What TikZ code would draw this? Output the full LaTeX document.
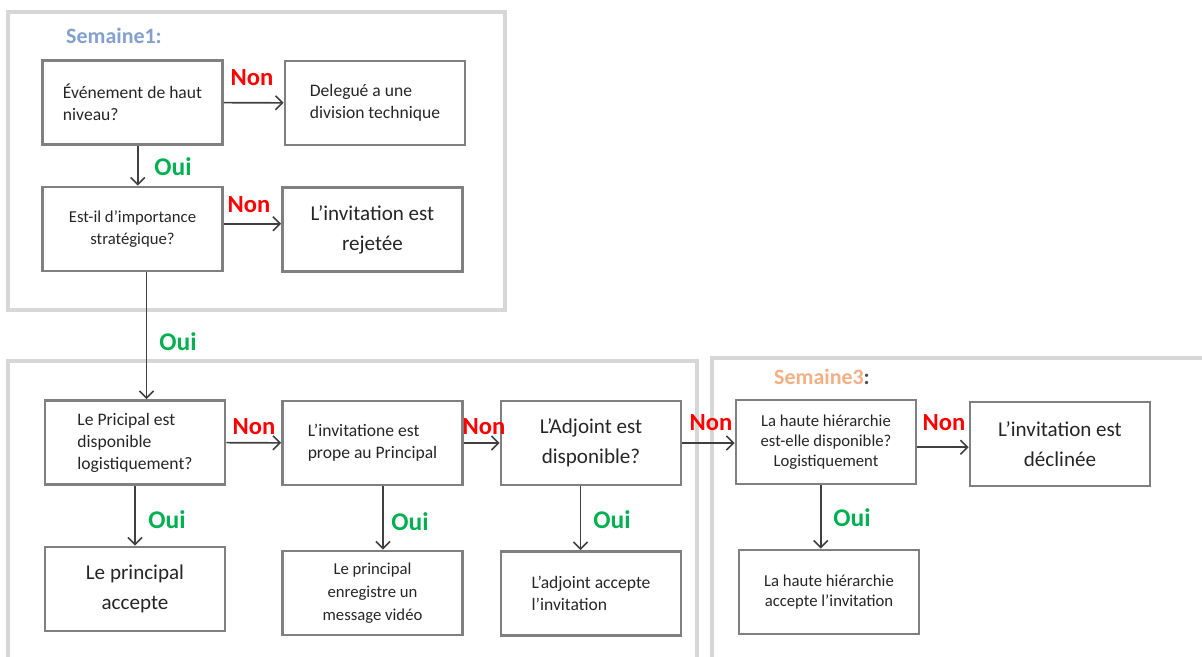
\documentclass[tikz,border=0pt]{standalone}
\usepackage{fontspec}
\setmainfont{Carlito}
\usetikzlibrary{arrows.meta}

\definecolor{nonred}{RGB}{255,0,0}
\definecolor{ouigreen}{RGB}{0,176,80}
\definecolor{semblue}{RGB}{132,160,206}
\definecolor{semorange}{RGB}{244,176,132}
\definecolor{panelgray}{RGB}{215,215,215}

\tikzset{
    panel/.style={draw=panelgray, line width=1.8pt},
    box/.style={draw=gray, line width=1.6pt, minimum width=3.6cm, minimum height=1.68cm,
        inner sep=2pt, text=black!85},
    smalltxt/.style={font=\fontsize{9.5}{13}\selectfont, align=center},
    normtxt/.style={font=\fontsize{10}{12.5}\selectfont, align=left},
    bigtxt/.style={font=\fontsize{12}{17}\selectfont, align=center},
    arr/.style={-{Straight Barb[length=4pt,width=8pt]}, draw=black!75, line width=0.9pt},
    non/.style={text=nonred, font=\bfseries\fontsize{14}{16}\selectfont},
    oui/.style={text=ouigreen, font=\bfseries\fontsize{14.5}{16}\selectfont}
}

\begin{document}
\begin{tikzpicture}[x=0.02cm, y=-0.02cm]
    \clip (0,0) rectangle (1202,656);
    \draw[panel] (8,12) rectangle (505,310);
    \draw[panel] (8,361) rectangle (697,680);
    \draw[panel] (712,358) rectangle (1220,680);
    \node[text=semblue, font=\bfseries\fontsize{12.5}{14}\selectfont] (sem1) at (114,36) {Semaine1:};
    \node[text=black!70, font=\bfseries\fontsize{12.5}{14}\selectfont] (sem3) at (822,377) {\textcolor{semorange}{Semaine3}:};

    % semaine 1
    \node[box, normtxt] (A) at (132.5,102.5) {Événement de haut\\niveau?};
    \node[box, normtxt] (B) at (375,103) {Delegué a une\\division technique};
    \node[box, smalltxt] (C) at (132.5,229) {Est-il d'importance\\stratégique?};
    \node[box, bigtxt] (D) at (372.5,229.5) {L'invitation est\\rejetée};

    % semaine 2
    \node[box, normtxt] (E) at (135,442.5) {Le Pricipal est\\disponible\\logistiquement?};
    \node[box, normtxt] (F) at (372.5,443) {L'invitatione est\\prope au Principal};
    \node[box, bigtxt] (G) at (591,443) {L'Adjoint est\\disponible?};
    \node[box, bigtxt] (J) at (135,589) {Le principal\\accepte};
    \node[box, smalltxt] (K) at (372.5,593) {Le principal\\enregistre un\\message vidéo};
    \node[box, normtxt] (L) at (591,593.5) {L'adjoint accepte\\l'invitation};

    % semaine 3
    \node[box, smalltxt, font=\fontsize{9.5}{11.5}\selectfont] (H) at (826,442) {La haute hiérarchie\\est-elle disponible?\\Logistiquement};
    \node[box, bigtxt] (I) at (1060,444) {L'invitation est\\déclinée};
    \node[box, smalltxt, font=\fontsize{9.5}{11}\selectfont] (M) at (829,592) {La haute hiérarchie\\accepte l'invitation};

    \draw[arr] (A) -- (B);
    \draw[arr] ([xshift=3pt]A.south) -- ([xshift=3pt]A.south |- C.north);
    \draw[arr] ([yshift=3pt]C.east) -- ([yshift=3pt]C.east -| D.west);
    \draw[arr] ([xshift=8pt]C.south) -- ([xshift=8pt]C.south |- E.north);
    \draw[arr] (E) -- (F);
    \draw[arr] (F) -- (G);
    \draw[arr] (G.east) -- (G.east -| H.west);
    \draw[arr] ([yshift=-3pt]H.east) -- ([yshift=-3pt]H.east -| I.west);
    \draw[arr] (E) -- (J);
    \draw[arr] ([xshift=6pt]F.south) -- ([xshift=6pt]F.south |- K.north);
    \draw[arr] ([xshift=-6pt]G.south) -- ([xshift=-6pt]G.south |- L.north);
    \draw[arr] ([xshift=-3pt]H.south) -- ([xshift=-3pt]H.south |- M.north);

    \node[non] (nAB) at (252,78) {Non};
    \node[non] (nCD) at (249,205) {Non};
    \node[non] (nEF) at (254,427) {Non};
    \node[non] (nFG) at (484,427) {Non};
    \node[non] (nGH) at (711,423) {Non};
    \node[non] (nHI) at (944,423) {Non};
    \node[oui] (oAC) at (173,167) {Oui};
    \node[oui] (oCE) at (178,342) {Oui};
    \node[oui] (oEJ) at (167,520) {Oui};
    \node[oui] (oFK) at (410,522) {Oui};
    \node[oui] (oGL) at (612,520) {Oui};
    \node[oui] (oHM) at (852,518) {Oui};
\end{tikzpicture}
\end{document}
